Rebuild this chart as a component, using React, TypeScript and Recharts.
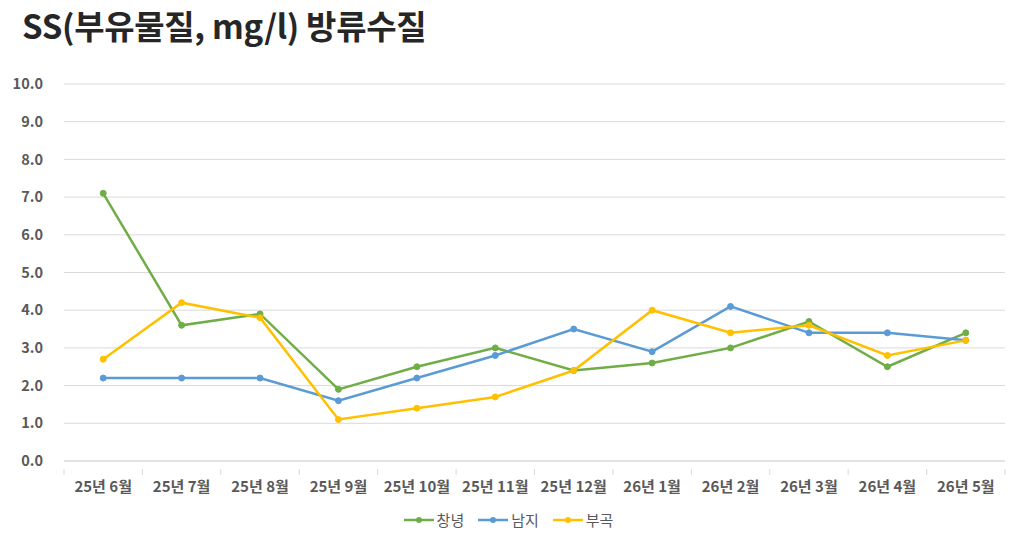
import React from 'react';
import { LineChart, Line, XAxis, YAxis, CartesianGrid } from 'recharts';

const months = ['25년 6월', '25년 7월', '25년 8월', '25년 9월', '25년 10월', '25년 11월', '25년 12월', '26년 1월', '26년 2월', '26년 3월', '26년 4월', '26년 5월'];
const changnyeong = [7.1, 3.6, 3.9, 1.9, 2.5, 3.0, 2.4, 2.6, 3.0, 3.7, 2.5, 3.4];
const namji = [2.2, 2.2, 2.2, 1.6, 2.2, 2.8, 3.5, 2.9, 4.1, 3.4, 3.4, 3.2];
const bugok = [2.7, 4.2, 3.8, 1.1, 1.4, 1.7, 2.4, 4.0, 3.4, 3.6, 2.8, 3.2];
const yTicks = [0, 1, 2, 3, 4, 5, 6, 7, 8, 9, 10];

const series = [
  { key: 'cn', name: '창녕', color: '#70AD47' },
  { key: 'nj', name: '남지', color: '#5B9BD5' },
  { key: 'bg', name: '부곡', color: '#FFC000' },
];

const data = months.map((m, i) => ({ month: m, cn: changnyeong[i], nj: namji[i], bg: bugok[i] }));

const W = 1017;
const H = 547;
const FONT = '"Noto Sans CJK KR", "Noto Sans", sans-serif';
const LEFT = 64;
const RIGHT = 12;
const band = (W - LEFT - RIGHT) / months.length;

// category label plus the small separator ticks between bands
const MonthTick = (props: any) => {
  const { x, y, payload, index } = props;
  return (
    <g>
      <line x1={x - band / 2} x2={x - band / 2} y1={y} y2={y + 6} stroke="#d9d9d9" />
      {index === months.length - 1 && (
        <line x1={x + band / 2} x2={x + band / 2} y1={y} y2={y + 6} stroke="#d9d9d9" />
      )}
      <text x={x} y={y + 23} textAnchor="middle" fill="#595959" fontSize={15} fontWeight="bold" fontFamily={FONT}>
        {payload.value}
      </text>
    </g>
  );
};

export default function App() {
  return (
    <div style={{ position: 'absolute', left: 0, top: 0, width: W, height: H, background: '#fff', fontFamily: FONT }}>
      <div style={{ position: 'absolute', left: 22, top: 1, fontSize: 33, fontWeight: 'bold', color: '#262626', letterSpacing: -0.3 }}>
        SS(부유물질, mg/l) 방류수질
      </div>
      <LineChart width={W} height={H} data={data} margin={{ top: 84, right: RIGHT, left: 0, bottom: 0 }}>
        <CartesianGrid vertical={false} stroke="#d9d9d9" />
        <XAxis
          dataKey="month"
          height={86}
          axisLine={{ stroke: '#d9d9d9' }}
          tickLine={false}
          tick={<MonthTick />}
          interval={0}
          padding={{ left: band / 2, right: band / 2 }}
        />
        <YAxis
          width={LEFT}
          domain={[0, 10]}
          ticks={yTicks}
          axisLine={false}
          tickLine={false}
          tickSize={0}
          tickMargin={21}
          tickFormatter={(v: number) => v.toFixed(1)}
          tick={{ fill: '#595959', fontSize: 14.5, fontWeight: 'bold', fontFamily: FONT }}
        />
        {series.map((s) => (
          <Line
            key={s.key}
            dataKey={s.key}
            name={s.name}
            stroke={s.color}
            strokeWidth={2.5}
            dot={{ r: 3, fill: s.color, stroke: s.color, strokeWidth: 1 }}
            isAnimationActive={false}
          />
        ))}
      </LineChart>
      <div style={{ position: 'absolute', top: 509, left: 0, width: W, display: 'flex', justifyContent: 'center', gap: 14, fontSize: 15, color: '#595959' }}>
        {series.map((s) => (
          <div key={s.key} style={{ display: 'flex', alignItems: 'center', gap: 3 }}>
            <svg width={30} height={12}>
              <line x1={0} x2={30} y1={6} y2={6} stroke={s.color} strokeWidth={2.5} />
              <circle cx={15} cy={6} r={3} fill={s.color} />
            </svg>
            <span>{s.name}</span>
          </div>
        ))}
      </div>
    </div>
  );
}
